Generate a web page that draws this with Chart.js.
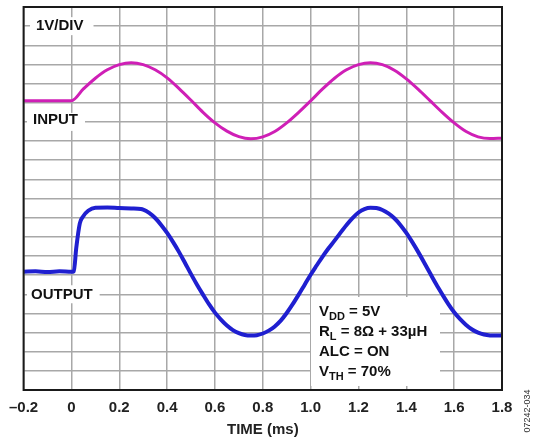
<!DOCTYPE html>
<html>
<head>
<meta charset="utf-8">
<script src="https://cdn.jsdelivr.net/npm/chart.js@4"></script>
<style>
  body { margin: 0; background: #fff; }
  canvas { display: block; }
</style>
</head>
<body>
<canvas id="scope" width="533" height="444"></canvas>
<script>
// time axis (ms) and tick labels
const xTickLabels = ["\u20130.2", "0", "0.2", "0.4", "0.6", "0.8", "1.0", "1.2", "1.4", "1.6", "1.8"];

// input trace, in divisions (0 = bottom of screen, 20 = top)
const timeIn = [-0.2, 0, 0.05, 0.1, 0.15, 0.2, 0.25, 0.3, 0.35, 0.4, 0.45, 0.5, 0.55, 0.6, 0.65, 0.7, 0.75,
  0.8, 0.85, 0.9, 0.95, 1.0, 1.05, 1.1, 1.15, 1.2, 1.25, 1.3, 1.35, 1.4, 1.45, 1.5, 1.55, 1.6, 1.65, 1.7, 1.75, 1.8];
const inputV = [15.11, 15.11, 15.72, 16.28, 16.72, 16.99, 17.09, 16.99, 16.72, 16.3, 15.74, 15.13, 14.5, 13.95, 13.52, 13.23, 13.12,
  13.22, 13.5, 13.95, 14.5, 15.1, 15.72, 16.28, 16.72, 16.99, 17.09, 16.99, 16.7, 16.25, 15.7, 15.1, 14.5, 13.95, 13.5, 13.22, 13.13, 13.15];

// output trace, in divisions
const timeOut = [-0.2, -0.15, -0.1, -0.05, 0, 0.01, 0.02, 0.035, 0.048, 0.07, 0.1, 0.15, 0.2, 0.25, 0.29,
  0.3, 0.325, 0.35, 0.375, 0.4, 0.425, 0.45, 0.475, 0.5, 0.525, 0.55, 0.575, 0.6, 0.625, 0.65, 0.675, 0.7, 0.725, 0.75,
  0.775, 0.8, 0.825, 0.85, 0.875, 0.9, 0.925, 0.95, 0.975, 1.0, 1.025, 1.05, 1.075, 1.1, 1.125, 1.15, 1.175, 1.2, 1.225, 1.25,
  1.275, 1.3, 1.325, 1.35, 1.375, 1.4, 1.425, 1.45, 1.475, 1.5, 1.525, 1.55, 1.575, 1.6, 1.625, 1.65, 1.675, 1.7, 1.725, 1.75,
  1.775, 1.8];
const outputV = [6.18, 6.2, 6.16, 6.2, 6.17, 6.2, 7.4, 8.7, 9.05, 9.36, 9.52, 9.53, 9.5, 9.48, 9.45,
  9.42, 9.25, 8.98, 8.62, 8.2, 7.72, 7.2, 6.63, 6.05, 5.5, 4.98, 4.48, 4.04, 3.68, 3.37, 3.13, 2.97, 2.87, 2.84,
  2.86, 2.95, 3.1, 3.32, 3.62, 4.02, 4.48, 4.98, 5.5, 6.02, 6.5, 6.97, 7.4, 7.8, 8.22, 8.62, 8.98, 9.27, 9.45, 9.52,
  9.5, 9.4, 9.22, 8.97, 8.62, 8.2, 7.72, 7.2, 6.65, 6.08, 5.52, 5.0, 4.5, 4.06, 3.7, 3.4, 3.16, 3.0, 2.9, 2.85,
  2.84, 2.86];

const annotation = [
  [["V", false], ["DD", true], [" = 5V", false]],
  [["R", false], ["L", true], [" = 8\u03A9 + 33\u00B5H", false]],
  [["ALC = ON", false]],
  [["V", false], ["TH", true], [" = 70%", false]],
];

const FONT = "'Liberation Sans', Arial, sans-serif";

const scopeLabels = {
  id: "scopeLabels",
  beforeDatasetsDraw(chart) {
    const ctx = chart.ctx;
    const y = chart.scales.y;
    ctx.save();
    ctx.font = "bold 15px " + FONT;
    ctx.textBaseline = "alphabetic";
    ctx.fillStyle = "#111";
    const tags = [
      { text: "1V/DIV", v: 19, x: 36, l: 6, r: 10, up: 1.5 },
      { text: "INPUT", v: 14, x: 33, l: 6, r: 7, up: 3 },
      { text: "OUTPUT", v: 5, x: 31, l: 4, r: 7, up: 0.5 },
    ];
    tags.forEach((t) => {
      const gy = y.getPixelForValue(t.v);
      const w = ctx.measureText(t.text).width;
      ctx.fillStyle = "#fff";
      ctx.fillRect(t.x - t.l, gy - 9, w + t.l + t.r, 18);
      ctx.fillStyle = "#111";
      ctx.fillText(t.text, t.x, gy + 5.3 - t.up);
    });

    // conditions block
    ctx.fillStyle = "#fff";
    ctx.fillRect(311, 297, 129, 89);
    let base = y.getPixelForValue(4) + 3;
    annotation.forEach((line) => {
      let x = 319;
      line.forEach(([txt, sub]) => {
        ctx.font = (sub ? "bold 11px " : "bold 15px ") + FONT;
        ctx.fillStyle = "#111";
        ctx.fillText(txt, x, base + (sub ? 4 : 0));
        x += ctx.measureText(txt).width;
      });
      base += 20;
    });
    ctx.restore();
  },
  afterDatasetsDraw(chart) {
    const ctx = chart.ctx;
    const a = chart.chartArea;
    ctx.save();
    ctx.strokeStyle = "#1a1a1a";
    ctx.lineWidth = 2;
    ctx.strokeRect(a.left, a.top, a.right - a.left, a.bottom - a.top);
    ctx.restore();
  },
  afterDraw(chart) {
    const ctx = chart.ctx;
    ctx.save();
    ctx.translate(528, 411);
    ctx.rotate(-Math.PI / 2);
    ctx.font = "9px " + FONT;
    ctx.fillStyle = "#333";
    ctx.textAlign = "center";
    ctx.textBaseline = "middle";
    ctx.fillText("07242-034", 0, 0);
    ctx.restore();
  },
};

const gridStyle = { color: "#a8a8a8", lineWidth: 1.5, drawTicks: false };

new Chart(document.getElementById("scope"), {
  type: "line",
  data: {
    datasets: [
      {
        label: "INPUT",
        data: timeIn.map((t, i) => ({ x: t, y: inputV[i] })),
        borderColor: "#cf1fb6",
        borderWidth: 3,
        pointRadius: 0,
        cubicInterpolationMode: "monotone",
      },
      {
        label: "OUTPUT",
        data: timeOut.map((t, i) => ({ x: t, y: outputV[i] })),
        borderColor: "#1f1fd0",
        borderWidth: 4,
        pointRadius: 0,
        cubicInterpolationMode: "monotone",
      },
    ],
  },
  options: {
    responsive: false,
    animation: false,
    devicePixelRatio: 1,
    layout: { padding: { left: 22, right: 31, top: 7, bottom: 0 } },
    plugins: { legend: { display: false }, tooltip: { enabled: false } },
    scales: {
      x: {
        type: "linear",
        min: -0.2,
        max: 1.8,
        grid: gridStyle,
        border: { display: false },
        ticks: {
          stepSize: 0.2,
          padding: 9,
          color: "#222",
          font: { family: FONT, size: 15, weight: "bold" },
          maxRotation: 0,
          callback: (v, i) => xTickLabels[i],
        },
        title: {
          display: true,
          text: "TIME (ms)",
          color: "#222",
          font: { family: FONT, size: 15, weight: "bold" },
          padding: { top: 0, bottom: 5 },
        },
        afterFit: (s) => { s.height = 54; },
      },
      y: {
        min: 0,
        max: 20,
        grid: gridStyle,
        border: { display: false },
        ticks: { stepSize: 1, display: false },
        afterFit: (s) => { s.width = 0; },
      },
    },
  },
  plugins: [scopeLabels],
});
</script>
</body>
</html>
